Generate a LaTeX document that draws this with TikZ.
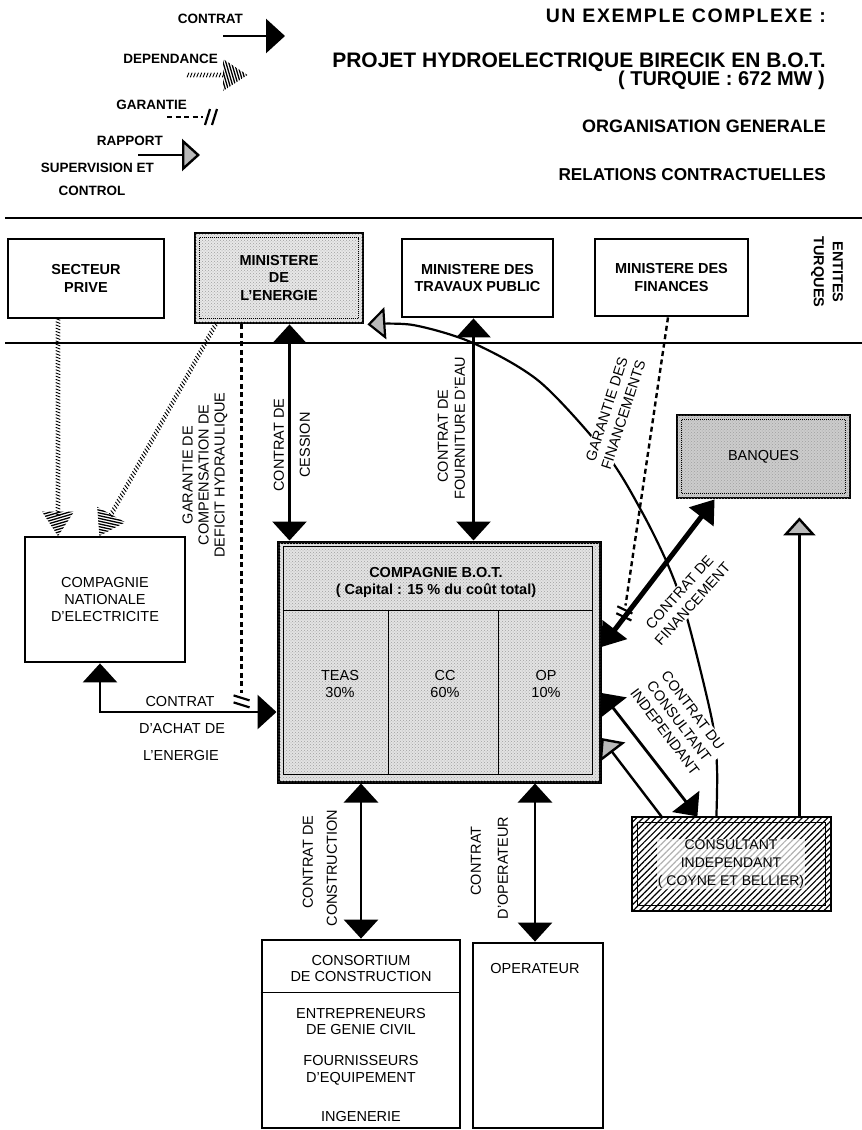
\documentclass[tikz,border=0pt]{standalone}
\usepackage{fontspec}
\setmainfont{Liberation Sans}
\usetikzlibrary{arrows.meta,decorations.markings,patterns,patterns.meta,calc}
\newcommand{\myfs}[2]{\fontsize{#1}{#2}\selectfont}
\tikzset{
  bx/.style={draw, line width=2.8pt, inner sep=0pt, align=center, font=\bfseries\myfs{14.5}{17.5}},
  bxr/.style={bx, font=\myfs{14.5}{17}},
  lab/.style={font=\myfs{14.5}{16.5}, align=center, inner sep=1pt},
  wlab/.style={lab, fill=white, font=\myfs{14.5}{17.5}},
  leg/.style={font=\bfseries\myfs{13.5}{16}, inner sep=0pt},
  ttl/.style={anchor=east, inner sep=0pt},
  contract/.style={line width=2.8pt, >={Triangle[length=19pt,width=34pt]}, <->},
  contract1/.style={line width=2.8pt, >={Triangle[length=19pt,width=34pt]}, ->},
  finance/.style={line width=5pt, >={Triangle[length=22pt,width=30pt]}, <->},
  rapport/.style={line width=2.4pt, >={Triangle[length=18pt,width=32pt,fill=gray!55]}, ->},
  dep/.style={decoration={markings,
      mark=between positions 0 and -21pt step 3.2pt with {\draw[line width=0.9pt] (-0.9pt,-2.3pt)--(0.9pt,2.3pt);},
      mark=at position 1 with {\begin{scope}\clip (0.5pt,0pt)--(-24pt,16pt)--(-24pt,-16pt)--cycle;
        \foreach \q in {-12,...,3}{\draw[line width=1.3pt] (\q*2.8pt,17pt)--(\q*2.8pt+10pt,-17pt);}\end{scope}}},
    decorate},
  gar/.style={line width=2.4pt, dash pattern=on 5pt off 3.5pt,
    decoration={markings, mark=at position 1 with {\draw[solid,line width=2.2pt] (2pt,-8pt)--(7pt,8pt) (9pt,-8pt)--(14pt,8pt);}},
    postaction={decorate}},
  dotfill/.style={postaction={pattern=crosshatch dots, pattern color=gray!75}},
}
\begin{document}
\begin{tikzpicture}[x=1pt,y=-1pt]
\useasboundingbox (0,0) rectangle (862,1130);

% ---------- titles
\node[ttl, font=\bfseries\myfs{19.5}{20}\addfontfeature{LetterSpace=8}] (t1) at (826,16) {UN EXEMPLE COMPLEXE :};
\node[ttl, font=\bfseries\myfs{21}{22}] (t2) at (826,62) {PROJET HYDROELECTRIQUE BIRECIK EN B.O.T.};
\node[ttl, font=\bfseries\myfs{20}{22}] (t3) at (825,80) {( TURQUIE : 672 MW )};
\node[ttl, font=\bfseries\myfs{18}{20}] (t4) at (826,126) {ORGANISATION GENERALE};
\node[ttl, font=\bfseries\myfs{17.2}{20}] (t5) at (826,175) {RELATIONS CONTRACTUELLES};

% ---------- legend
\node[leg, anchor=east] (lc) at (243,19) {CONTRAT};
\coordinate (lca) at (223,36); \coordinate (lcb) at (285,36);
\draw[contract1] (lca) -- (lcb);
\node[leg, anchor=east] (ld) at (218,59) {DEPENDANCE};
\coordinate (lda) at (188,75); \coordinate (ldb) at (247,75);
\path[dep] (lda) -- (ldb);
\node[leg, anchor=east] (lg) at (187,105) {GARANTIE};
\coordinate (lga) at (167,117); \coordinate (lgb) at (203,117);
\draw[gar] (lga) -- (lgb);
\node[leg, anchor=east] (lr) at (163,141) {RAPPORT};
\node[leg, anchor=east] (ls) at (154,168) {SUPERVISION ET};
\node[leg] (lco) at (92,191) {CONTROL};
\coordinate (lra) at (138,155); \coordinate (lrb) at (200,155);
\draw[rapport] (lra) -- (lrb);

% ---------- separators
\coordinate (s1a) at (5,218); \coordinate (s1b) at (862,218);
\coordinate (s2a) at (5,343); \coordinate (s2b) at (862,343);
\draw[line width=1.3pt] (s1a) -- (s1b) (s2a) -- (s2b);
\node[font=\bfseries\myfs{14.5}{19}, rotate=-90, align=center, inner sep=0pt] (ent) at (827,272) {ENTITES\\TURQUES};

% ---------- boxes
\node[bx, minimum width=156, minimum height=79] (prive) at (86,278.5) {SECTEUR\\PRIVE};
\node[bx, minimum width=168, minimum height=90, fill=gray!18, dotfill] (energie) at (279,278) {MINISTERE\\DE\\L'ENERGIE};
\draw[densely dotted, line width=1pt] ($(energie.north west)+(6,6)$) rectangle ($(energie.south east)+(-6,-6)$);
\node[bx, minimum width=151, minimum height=78] (travaux) at (477.5,278) {MINISTERE DES\\TRAVAUX PUBLIC};
\node[bx, minimum width=153, minimum height=77] (finances) at (671.5,277.5) {MINISTERE DES\\FINANCES};
\node[bxr, minimum width=160, minimum height=125] (nationale) at (105,599.5) {COMPAGNIE\\NATIONALE\\D'ELECTRICITE};

\node[bx, line width=3pt, minimum width=322, minimum height=240, fill=gray!22, dotfill] (bot) at (439,662) {};
\draw[line width=1pt] ($(bot.north west)+(7,6)$) rectangle ($(bot.south east)+(-9,-9)$);
\draw[line width=1pt] ($(bot.north west)+(7,70)$) -- ($(bot.north east)+(-9,70)$);
\draw[line width=1pt] ($(bot.north west)+(112,70)$) -- ($(bot.south west)+(112,-9)$);
\draw[line width=1pt] ($(bot.north west)+(222,70)$) -- ($(bot.south west)+(222,-9)$);
\node[font=\bfseries\myfs{14.5}{17}] (botn) at (436,572.5) {COMPAGNIE B.O.T.};
\node[font=\bfseries\myfs{14.5}{17}] (botc) at (436,591) {( Capital : 15 \% du coût total)};
\node[lab] (teas) at (340,684) {TEAS\\30\%};
\node[lab] (cc) at (445,684) {CC\\60\%};
\node[lab] (op) at (546,684) {OP\\10\%};

\node[bxr, minimum width=173, minimum height=83, fill=gray!40, dotfill] (banques) at (763.5,456.5) {BANQUES};
\draw[densely dotted, line width=1pt] ($(banques.north west)+(6,6)$) rectangle ($(banques.south east)+(-6,-6)$);

\node[bx, minimum width=199, minimum height=94, pattern={Lines[angle=45,distance=4.5pt,line width=1.2pt]}] (consult) at (731.5,864) {};
\draw[line width=1pt] ($(consult.north west)+(6,6)$) rectangle ($(consult.south east)+(-6,-6)$);
\node[lab, font=\myfs{14}{18}, fill=white, fill opacity=0.7, text opacity=1] (consultt) at (731,864) {CONSULTANT\\INDEPENDANT\\( COYNE ET BELLIER)};

\node[bx, minimum width=198, minimum height=188] (consortium) at (361,1034) {};
\draw[line width=1.5pt] ($(consortium.north west)+(0,54)$) -- ($(consortium.north east)+(0,54)$);
\node[lab] (cons1) at (361,968.5) {CONSORTIUM\\DE CONSTRUCTION};
\node[lab] (cons2) at (361,1021.5) {ENTREPRENEURS\\DE GENIE CIVIL};
\node[lab] (cons3) at (361,1070.5) {FOURNISSEURS\\D'EQUIPEMENT};
\node[lab] (cons4) at (361,1116) {INGENERIE};
\node[bx, minimum width=130, minimum height=185] (operateur) at (538,1035.5) {};
\node[lab] (opt) at (535,968) {OPERATEUR};

% ---------- supervision arc (behind labels)
\coordinate (arcS) at ([xshift=85pt]consult.north west);
\coordinate (arcE) at ([xshift=3pt]energie.south east);
\draw[line width=2.2pt, >={Triangle[length=18pt,width=32pt,fill=gray!55]}, ->]
  plot[smooth, tension=0.5] coordinates {(arcS) (717,768) (712,720) (687,618) (668,565) (642,512) (607,455) (540,382) (473,343) (413,325) (arcE)};

% ---------- labels
\node[lab, rotate=90] (lces1) at (279,445) {CONTRAT DE};
\node[lab, rotate=90] (lces2) at (305,445) {CESSION};
\node[lab, rotate=90] (lfou1) at (443,436) {CONTRAT DE};
\node[lab, rotate=90] (lfou2) at (460,428) {FOURNITURE D'EAU};
\node[lab, rotate=90, font=\myfs{14.5}{16}] (lcomp) at (205,475) {GARANTIE DE\\COMPENSATION DE\\DEFICIT HYDRAULIQUE};
\node[lab] (lach1) at (180,701) {CONTRAT};
\node[lab] (lach2) at (182,728) {D'ACHAT DE};
\node[lab] (lach3) at (181,755) {L'ENERGIE};
\node[lab, rotate=90] (lcon1) at (308,862) {CONTRAT DE};
\node[lab, rotate=90] (lcon2) at (332,868) {CONSTRUCTION};
\node[lab, rotate=90] (lop1) at (476,861) {CONTRAT};
\node[lab, rotate=90] (lop2) at (503,868) {D'OPERATEUR};
\node[wlab, rotate=72] (lgf) at (615,412) {GARANTIE DES\\FINANCEMENTS};
\node[wlab, rotate=48] (lfin) at (686,598) {CONTRAT DE\\FINANCEMENT};
\node[wlab, rotate=-53] (lcci) at (679,721) {CONTRAT DU\\CONSULTANT\\INDEPENDANT};

% ---------- contracts
\coordinate (cesB) at ([xshift=13pt]bot.north west);
\draw[contract] (cesB) -- (cesB |- energie.south);
\coordinate (fouB) at ([xshift=197pt]bot.north west);
\draw[contract] (fouB) -- (fouB |- travaux.south);
\draw[contract] (consortium.north |- bot.south) -- (consortium.north);
\coordinate (opB) at ([xshift=-3pt]operateur.north);
\draw[contract] (opB |- bot.south) -- (opB);
\coordinate (achB) at ([yshift=-50pt]bot.west);
\coordinate (achN) at ([xshift=-5pt]nationale.south);
\draw[contract] (achN) |- (achB);
\coordinate (finB) at ([yshift=15pt]bot.east);
\coordinate (finK) at ([xshift=39pt]banques.south west);
\draw[finance] (finB) -- (finK);
\coordinate (ccB) at ([yshift=-31pt]bot.east);
\coordinate (ccC) at ([xshift=66pt]consult.north west);
\draw[contract] (ccB) -- (ccC);

% ---------- reports
\coordinate (rcC) at ([xshift=30pt]consult.north west);
\coordinate (rcB) at ([yshift=-76pt]bot.east);
\draw[rapport] (rcC) -- (rcB);
\coordinate (rkC) at ([xshift=168pt]consult.north west);
\draw[rapport, shorten >=18pt] (rkC) -- (rkC |- banques.south);

% ---------- dependances
\coordinate (dpP) at ([xshift=-28pt]prive.south);
\path[dep] (dpP) -- (dpP |- nationale.north);
\coordinate (deE) at ([xshift=22pt]energie.south west);
\coordinate (deN) at ([xshift=76pt]nationale.north west);
\path[dep] (deE) -- (deN);

% ---------- garanties
\coordinate (gcE) at ([xshift=48pt]energie.south west);
\coordinate (gcB) at ($(gcE)+(0,369)$);
\draw[gar] (gcE) -- (gcB);
\coordinate (gfF) at ([xshift=-3.5pt]finances.south);
\coordinate (gfB) at ([xshift=24pt,yshift=-65pt]bot.north east);
\draw[gar] (gfF) -- (gfB);
\end{tikzpicture}
\end{document}
